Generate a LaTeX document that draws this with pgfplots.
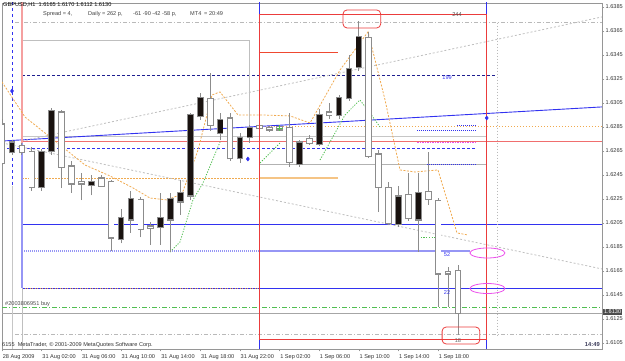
\documentclass[border=0pt]{standalone}
\usepackage{pgfplots}
\pgfplotsset{compat=1.18}
\usepackage{pgfplotstable}
\usepackage{fontspec}
\setmainfont{Liberation Sans}
\definecolor{mtblue}{RGB}{50,50,240}
\definecolor{ltblue}{RGB}{150,150,245}
\definecolor{lred}{RGB}{240,110,110}
\definecolor{mtred}{RGB}{235,60,60}
\definecolor{mtorange}{RGB}{240,170,80}
\definecolor{mtgreen}{RGB}{80,190,80}
\definecolor{mtgrey}{RGB}{150,150,150}
\definecolor{wickc}{RGB}{140,140,140}
\definecolor{bodyk}{RGB}{25,18,15}
\definecolor{mtpink}{RGB}{245,160,160}
\definecolor{mtmag}{RGB}{235,80,235}
\definecolor{clockc}{RGB}{60,60,90}

% bullish candles (drawn black): bar index, low, high, body low, body high
\pgfplotstableread{
k lo hi blo bhi
1 1.6262 1.6274 1.6264 1.6272
4 1.6232 1.6267 1.6235 1.6264
5 1.6262 1.6301 1.6265 1.6298
9 1.6228 1.6245 1.6237 1.6239
12 1.6188 1.6217 1.6192 1.6209
13 1.6197 1.6232 1.6208 1.6225
16 1.6187 1.6230 1.6202 1.6209
17 1.6181 1.6230 1.6208 1.6225
18 1.6212 1.6241 1.6223 1.6230
19 1.6224 1.6297 1.6228 1.6295
20 1.6291 1.6313 1.6294 1.6309
22 1.6274 1.6297 1.6280 1.6291
24 1.6255 1.6280 1.6259 1.6276
25 1.6272 1.6287 1.6277 1.6284
30 1.6252 1.6274 1.6254 1.6272
32 1.6269 1.6300 1.6271 1.6295
34 1.6292 1.6312 1.6295 1.6309
35 1.6307 1.6345 1.6309 1.6333
36 1.6332 1.6373 1.6335 1.6360
40 1.6202 1.6236 1.6204 1.6227
42 1.6181 1.6247 1.6208 1.6230
}\bull

% bearish candles (drawn white)
\pgfplotstableread{
k lo hi blo bhi
0 1.6253 1.6292 1.6255 1.6287
2 1.6262 1.6272 1.6264 1.6269
3 1.6232 1.6268 1.6235 1.6264
6 1.6234 1.6299 1.6252 1.6297
7 1.6230 1.6257 1.6238 1.6252
8 1.6224 1.6247 1.6238 1.6239
10 1.6235 1.6245 1.6236 1.6242
11 1.6182 1.6241 1.6193 1.6239
14 1.6193 1.6227 1.6200 1.6224
15 1.6187 1.6206 1.6201 1.6202
21 1.6282 1.6330 1.6287 1.6308
23 1.6257 1.6297 1.6259 1.6292
26 1.6275 1.6287 1.6284 1.6286
27 1.6281 1.6286 1.6283 1.6284
28 1.6282 1.6287 1.6283 1.6285
29 1.6252 1.6297 1.6256 1.6284
31 1.6270 1.6278 1.6272 1.6275
33 1.6292 1.6305 1.6295 1.6297
37 1.6259 1.6364 1.6261 1.6359
38 1.6214 1.6266 1.6235 1.6262
39 1.6203 1.6239 1.6205 1.6234
41 1.6207 1.6247 1.6209 1.6228
43 1.6220 1.6264 1.6225 1.6231
44 1.6135 1.6226 1.6163 1.6223
45 1.6135 1.6168 1.6163 1.6164
46 1.6112 1.6170 1.6130 1.6165
}\bear

\begin{document}
\begin{tikzpicture}
\path[use as bounding box] (0,0) rectangle (625pt,361pt);
\begin{axis}[
  at={(2pt,12pt)}, anchor=south west,
  scale only axis, width=600pt, height=346pt,
  xmin=-0.01, xmax=60.53, ymin=1.6100, ymax=1.63883,
  axis line style={draw=mtgrey, line width=0.8pt},
  tick style={draw=mtgrey, line width=0.6pt},
  every axis plot/.append style={line width=0.8pt},
  tick align=outside, major tick length=2.5pt,
  xtick pos=bottom, ytick pos=right, yticklabel pos=right,
  xtick={0,4,8,12,16,20,24,28,32,36,40,44},
  xticklabels={28 Aug 2009,31 Aug 02:00,31 Aug 06:00,31 Aug 10:00,31 Aug 14:00,31 Aug 18:00,31 Aug 22:00,1 Sep 02:00,1 Sep 06:00,1 Sep 10:00,1 Sep 14:00,1 Sep 18:00},
  ytick={1.6105,1.6125,1.6145,1.6165,1.6185,1.6205,1.6225,1.6245,1.6265,1.6285,1.6305,1.6325,1.6345,1.6365,1.6385},
  scaled y ticks=false,
  tick label style={font=\fontsize{5.6}{6.5}\selectfont, text=black!80},
  x tick label style={anchor=north west, inner sep=1pt, xshift=-0.5pt, yshift=-1.5pt},
  y tick label style={anchor=west, inner sep=1pt, /pgf/number format/fixed, /pgf/number format/fixed zerofill, /pgf/number format/precision=4, /pgf/number format/assume math mode=true},
  clip=true,
]
% ---- horizontal levels ----
\addplot[gray!55, dash pattern=on 4pt off 2pt on 1pt off 2pt] coordinates {(1.3,1.6372) (61,1.6372)};
\addplot[gray!55, dash pattern=on 4pt off 2pt on 1pt off 2pt] coordinates {(1.3,1.6112) (61,1.6112)};
\addplot[mtgreen, dash pattern=on 5pt off 2pt on 1pt off 2pt] coordinates {(-1,1.6135) (61,1.6135)};
\addplot[gray!70] coordinates {(-1,1.6130) (61,1.6130)};
\addplot[mtblue] coordinates {(2.01,1.62042) (61,1.62042)};
\addplot[ltblue, line width=1.2pt, dash pattern=on 1pt off 1pt] coordinates {(2.01,1.61817) (25.92,1.61817)};
\addplot[ltblue, line width=1.2pt] coordinates {(25.92,1.61817) (47.2,1.61817)};
\addplot[mtblue] coordinates {(2.01,1.61508) (61,1.61508)};
\addplot[mtorange, dash pattern=on 1pt off 1.5pt] coordinates {(2.01,1.61508) (25.92,1.61508)};
\addplot[mtblue, dash pattern=on 3pt off 2pt] coordinates {(-1,1.62675) (47.9,1.62675)};
\addplot[mtblue!60!black, dash pattern=on 3pt off 2pt] coordinates {(2.01,1.63283) (49.7,1.63283)};
\addplot[lred, line width=1pt] coordinates {(2.01,1.62725) (61,1.62725)};
\addplot[gray!45] coordinates {(2.01,1.6277) (48.9,1.6277)};
\addplot[mtorange, dash pattern=on 1.5pt off 1.5pt] coordinates {(25.92,1.62858) (61,1.62858)};
\addplot[gray!60] coordinates {(25.92,1.6254) (48.9,1.6254)};
\addplot[mtorange, dash pattern=on 1.5pt off 1.5pt] coordinates {(2.01,1.62425) (25.92,1.62425)};
\addplot[mtorange!70, line width=1.2pt] coordinates {(25.92,1.62425) (33.9,1.62425)};
\addplot[mtred!80!orange] coordinates {(25.92,1.6347) (33.9,1.6347)};
\addplot[gray!50] coordinates {(2.01,1.6357) (24.91,1.6357) (24.91,1.6272)};
\addplot[mtblue, dash pattern=on 1pt off 1pt] coordinates {(41.9,1.6282) (47.9,1.6282)};
\addplot[mtblue, dash pattern=on 1pt off 1pt] coordinates {(45.9,1.6286) (47.9,1.6286)};
\addplot[mtblue, dash pattern=on 1pt off 1pt] coordinates {(42.9,1.6254) (47.9,1.6254)};
\addplot[mtmag, dash pattern=on 1.5pt off 1pt] coordinates {(41.9,1.6272) (47.9,1.6272)};
% ---- trend lines ----
\addplot[mtblue, line width=0.9pt] coordinates {(-0.01,1.62733) (60.53,1.63017)};
\addplot[gray!50, dash pattern=on 2pt off 2pt] coordinates {(2.01,1.62733) (60.53,1.63767)};
\addplot[gray!50, dash pattern=on 2pt off 2pt] coordinates {(-0.01,1.62717) (60.53,1.61667)};
% ---- vertical lines ----
\addplot[mtblue, dash pattern=on 3pt off 3pt] coordinates {(1,1.6389) (1,1.6236)};
\addplot[gray!45] coordinates {(1,1.6236) (1,1.6100)};
\addplot[mtpink, line width=1.6pt] coordinates {(2.01,1.6389) (2.01,1.62717)};
\addplot[ltblue, line width=1.2pt] coordinates {(2.01,1.62717) (2.01,1.61508)};
\addplot[gray!50, line width=1pt] coordinates {(2.01,1.61508) (2.01,1.6100)};
\addplot[gray!55, dash pattern=on 1.5pt off 1.5pt] coordinates {(49.94,1.6372) (49.94,1.6112)};
\addplot[mtblue] coordinates {(25.92,1.6389) (25.92,1.6100)};
\addplot[mtblue] coordinates {(48.9,1.6389) (48.9,1.6100)};
% ---- moving averages ----
\addplot[mtorange, line width=0.8pt, dash pattern=on 2pt off 1.5pt] coordinates {
(-0.01,1.63225) (2.31,1.62933) (5.84,1.6270) (8.37,1.62533) (10.89,1.62442)
(13.21,1.62342) (14.92,1.62258) (16.64,1.62242) (18.15,1.62292) (19.77,1.62658)
(21.18,1.63117) (21.99,1.63142) (23.8,1.6295) (26.22,1.6295) (29.05,1.62942)
(31.07,1.62883) (34.1,1.63325) (36.92,1.63642) (38.64,1.63075) (40.15,1.62492)
(41.66,1.62475) (43.98,1.62492) (45.9,1.61967) (47.01,1.6195)};
\addplot[mtgreen, line width=0.8pt, dash pattern=on 1.2pt off 1.5pt] coordinates {
(16.94,1.61808) (17.95,1.61892) (19.26,1.62242) (20.27,1.62383) (21.99,1.62725)};
\addplot[mtgreen, line width=0.8pt, dash pattern=on 1.2pt off 1.5pt] coordinates {
(26.03,1.6255) (28.04,1.62717)};
\addplot[mtgreen, line width=0.8pt, dash pattern=on 1.2pt off 1.5pt] coordinates {
(32.08,1.62575) (34.6,1.6295) (36.1,1.63075) (37.12,1.62967) (38.13,1.6285)};
\addplot[mtgreen, line width=0.8pt, dash pattern=on 1.2pt off 1.5pt] coordinates {
(41.97,1.61933) (43.9,1.61933)};
% ---- candles: wicks ----
\addplot[draw=none, mark=none, forget plot, error bars/.cd, y dir=plus, y explicit, error mark=none,
  error bar style={draw=wickc, line width=0.9pt, solid}]
  table[x=k, y=lo, y error plus expr=\thisrow{hi}-\thisrow{lo}] {\bull};
\addplot[draw=none, mark=none, forget plot, error bars/.cd, y dir=plus, y explicit, error mark=none,
  error bar style={draw=wickc, line width=0.9pt, solid}]
  table[x=k, y=lo, y error plus expr=\thisrow{hi}-\thisrow{lo}] {\bear};
% ---- candle bodies: outline ----
\addplot[draw=none, mark=none, forget plot, error bars/.cd, y dir=plus, y explicit, error mark=none,
  error bar style={draw=wickc, line width=6.6pt, solid}]
  table[x=k, y expr=\thisrow{blo}-0.0001, y error plus expr=\thisrow{bhi}-\thisrow{blo}+0.0002] {\bull};
\addplot[draw=none, mark=none, forget plot, error bars/.cd, y dir=plus, y explicit, error mark=none,
  error bar style={draw=wickc, line width=6.6pt, solid}]
  table[x=k, y expr=\thisrow{blo}-0.0001, y error plus expr=\thisrow{bhi}-\thisrow{blo}+0.0002] {\bear};
% ---- candle bodies: fill ----
\addplot[draw=none, mark=none, forget plot, error bars/.cd, y dir=plus, y explicit, error mark=none,
  error bar style={draw=bodyk, line width=4.8pt, solid}]
  table[x=k, y=blo, y error plus expr=\thisrow{bhi}-\thisrow{blo}] {\bull};
\addplot[draw=none, mark=none, forget plot, error bars/.cd, y dir=plus, y explicit, error mark=none,
  error bar style={draw=white, line width=4.8pt, solid}]
  table[x=k, y=blo, y error plus expr=\thisrow{bhi}-\thisrow{blo}] {\bear};
% ---- overlays ----
\addplot[mtred, line width=0.9pt] coordinates {(25.92,1.6379) (48.9,1.6379) (48.9,1.61083) (25.92,1.61083) (25.92,1.6379)};
\addplot[mtred, line width=0.8pt, rounded corners=4pt] coordinates {(36.3,1.63825) (38.2,1.63825) (38.2,1.63675) (34.4,1.63675) (34.4,1.63825) (36.3,1.63825)};
\addplot[mtred, line width=0.8pt, rounded corners=4pt] coordinates {(46.3,1.61183) (48.2,1.61183) (48.2,1.61042) (44.4,1.61042) (44.4,1.61183) (46.3,1.61183)};
\addplot[only marks, mark=o, mark size=5pt, mark options={xscale=3.5, draw=mtmag, line width=0.8pt}] coordinates {(48.97,1.6180) (48.97,1.61504)};
\addplot[only marks, mark=diamond*, mark size=1.8pt, mtblue] coordinates {(1,1.6315) (24.8,1.62583) (48.9,1.62925)};
\addplot[only marks, mark=+, mark size=3pt, mtgreen, thick] coordinates {(28.0,1.62842)};
\node[font=\fontsize{5.6}{6.5}\selectfont, text=black!70, inner sep=0pt] at (axis cs:45.9,1.63783) {244};
\node[font=\fontsize{5.6}{6.5}\selectfont, text=mtblue, inner sep=0pt] at (axis cs:44.9,1.63258) {199};
\node[font=\fontsize{5.6}{6.5}\selectfont, text=mtblue, inner sep=0pt] at (axis cs:44.9,1.61783) {52};
\node[font=\fontsize{5.6}{6.5}\selectfont, text=mtblue, inner sep=0pt] at (axis cs:44.9,1.61467) {22};
\node[font=\fontsize{5.6}{6.5}\selectfont, text=black!60, inner sep=0pt] at (axis cs:46.0,1.61067) {18};
\end{axis}
% ---- chart header and footer texts ----
\begin{scope}[every node/.style={font=\fontsize{5.6}{6.5}\selectfont, inner sep=0pt, anchor=west}]
\node[text=black] at (3pt,356pt) {GBPUSD,H1\ \ 1.6165 1.6170 1.6112 1.6130};
\node[text=black!75] at (43pt,347pt) {Spread = 4,};
\node[text=black!75] at (88pt,347pt) {Daily};
\node[text=black!75] at (102pt,347pt) {= 262 p,};
\node[text=black!75] at (133pt,347pt) {-61 -90 -42 -58 p,};
\node[text=black!75] at (190pt,347pt) {MT4};
\node[text=black!75] at (204pt,347pt) {= 20:49};
\node[text=black!70] at (5pt,57pt) {\#2003806951 buy};
\node[text=black!80] at (2pt,16pt) {6155\ \ MetaTrader, © 2001-2009 MetaQuotes Software Corp.};
\node[text=clockc, anchor=east, font=\fontsize{5.8}{6.5}\selectfont\bfseries] at (600pt,16pt) {14:49};
\node[fill=black!70, text=white, inner sep=0.8pt] at (603pt,49pt) {1.6130};
\end{scope}
\end{tikzpicture}
\end{document}
